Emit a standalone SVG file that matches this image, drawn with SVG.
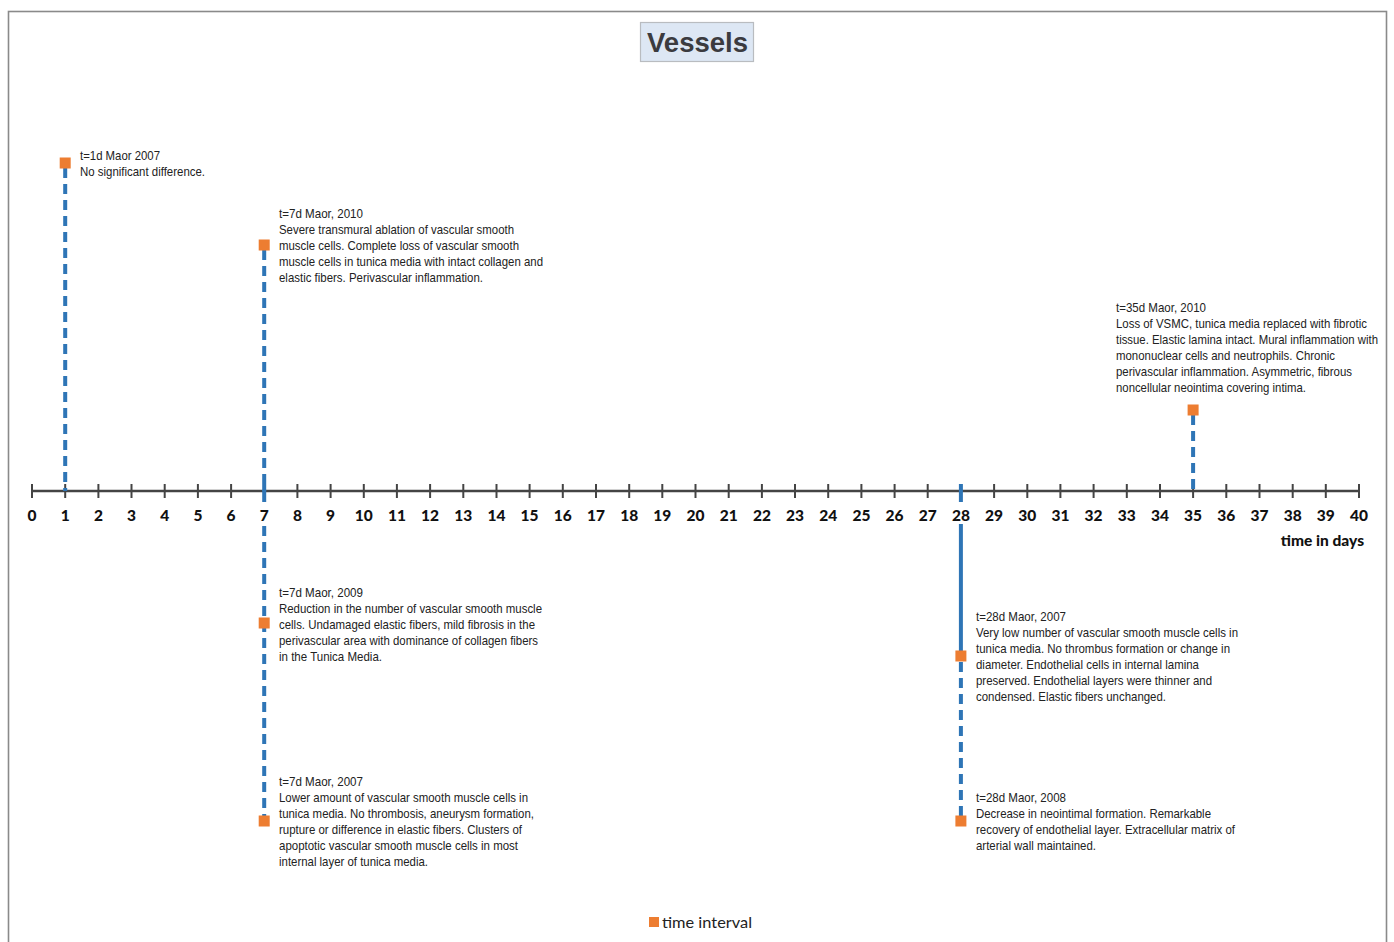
<svg xmlns="http://www.w3.org/2000/svg" width="1394" height="942" viewBox="0 0 1394 942">
<style>
.frame{fill:#fff;stroke:#8a8a8a;stroke-width:1.6}
.title{font-family:"Liberation Sans",Arial,sans-serif;font-weight:bold;font-size:27px;fill:#3b3b3f}
.axis{stroke:#444;stroke-width:2.6;fill:none}
.tick{stroke:#444;stroke-width:2}
.tl{font-family:Lato,"Open Sans",sans-serif;font-weight:900;font-size:15.5px;fill:#111;text-anchor:middle}
.ax{font-family:Lato,"Open Sans",sans-serif;font-weight:900;font-size:15.5px;fill:#111}
.dash{stroke:#2e75b6;stroke-width:4;stroke-dasharray:10 6;fill:none}
.solid{stroke:#2e75b6;stroke-width:4;fill:none}
.mk{fill:#ed7d31}
.t{font-family:"Liberation Sans",Arial,sans-serif;font-size:13.5px;fill:#222}
.leg{font-family:Lato,"Open Sans",sans-serif;font-size:16px;fill:#222}
</style>
<rect class="frame" x="8.5" y="11.5" width="1378" height="945"/>
<g id="title">
<rect x="640.5" y="22.5" width="113" height="39" fill="#dde7f4" stroke="#b9bcc0" stroke-width="1.2"/>
<text class="title" x="647" y="52" textLength="101" lengthAdjust="spacingAndGlyphs">Vessels</text>
</g>
<g id="axis">
<line class="axis" x1="32" y1="491" x2="1359" y2="491"/>
<g class="tick">
<line x1="32" y1="484" x2="32" y2="498"/><line x1="65.2" y1="484" x2="65.2" y2="498"/><line x1="98.4" y1="484" x2="98.4" y2="498"/><line x1="131.5" y1="484" x2="131.5" y2="498"/><line x1="164.7" y1="484" x2="164.7" y2="498"/><line x1="197.9" y1="484" x2="197.9" y2="498"/><line x1="231.1" y1="484" x2="231.1" y2="498"/><line x1="264.2" y1="484" x2="264.2" y2="498"/><line x1="297.4" y1="484" x2="297.4" y2="498"/><line x1="330.6" y1="484" x2="330.6" y2="498"/><line x1="363.8" y1="484" x2="363.8" y2="498"/><line x1="396.9" y1="484" x2="396.9" y2="498"/><line x1="430.1" y1="484" x2="430.1" y2="498"/><line x1="463.3" y1="484" x2="463.3" y2="498"/><line x1="496.5" y1="484" x2="496.5" y2="498"/><line x1="529.6" y1="484" x2="529.6" y2="498"/><line x1="562.8" y1="484" x2="562.8" y2="498"/><line x1="596" y1="484" x2="596" y2="498"/><line x1="629.2" y1="484" x2="629.2" y2="498"/><line x1="662.3" y1="484" x2="662.3" y2="498"/><line x1="695.5" y1="484" x2="695.5" y2="498"/><line x1="728.7" y1="484" x2="728.7" y2="498"/><line x1="761.9" y1="484" x2="761.9" y2="498"/><line x1="795" y1="484" x2="795" y2="498"/><line x1="828.2" y1="484" x2="828.2" y2="498"/><line x1="861.4" y1="484" x2="861.4" y2="498"/><line x1="894.6" y1="484" x2="894.6" y2="498"/><line x1="927.7" y1="484" x2="927.7" y2="498"/><line x1="960.9" y1="484" x2="960.9" y2="498"/><line x1="994.1" y1="484" x2="994.1" y2="498"/><line x1="1027.3" y1="484" x2="1027.3" y2="498"/><line x1="1060.4" y1="484" x2="1060.4" y2="498"/><line x1="1093.6" y1="484" x2="1093.6" y2="498"/><line x1="1126.8" y1="484" x2="1126.8" y2="498"/><line x1="1160" y1="484" x2="1160" y2="498"/><line x1="1193.1" y1="484" x2="1193.1" y2="498"/><line x1="1226.3" y1="484" x2="1226.3" y2="498"/><line x1="1259.5" y1="484" x2="1259.5" y2="498"/><line x1="1292.7" y1="484" x2="1292.7" y2="498"/><line x1="1325.8" y1="484" x2="1325.8" y2="498"/><line x1="1359" y1="484" x2="1359" y2="498"/>
</g>
<g>
<text class="tl" x="32" y="521">0</text><text class="tl" x="65.2" y="521">1</text><text class="tl" x="98.4" y="521">2</text><text class="tl" x="131.5" y="521">3</text><text class="tl" x="164.7" y="521">4</text><text class="tl" x="197.9" y="521">5</text><text class="tl" x="231.1" y="521">6</text><text class="tl" x="264.2" y="521">7</text><text class="tl" x="297.4" y="521">8</text><text class="tl" x="330.6" y="521">9</text><text class="tl" x="363.8" y="521">10</text><text class="tl" x="396.9" y="521">11</text><text class="tl" x="430.1" y="521">12</text><text class="tl" x="463.3" y="521">13</text><text class="tl" x="496.5" y="521">14</text><text class="tl" x="529.6" y="521">15</text><text class="tl" x="562.8" y="521">16</text><text class="tl" x="596" y="521">17</text><text class="tl" x="629.2" y="521">18</text><text class="tl" x="662.3" y="521">19</text><text class="tl" x="695.5" y="521">20</text><text class="tl" x="728.7" y="521">21</text><text class="tl" x="761.9" y="521">22</text><text class="tl" x="795" y="521">23</text><text class="tl" x="828.2" y="521">24</text><text class="tl" x="861.4" y="521">25</text><text class="tl" x="894.6" y="521">26</text><text class="tl" x="927.7" y="521">27</text><text class="tl" x="960.9" y="521">28</text><text class="tl" x="994.1" y="521">29</text><text class="tl" x="1027.3" y="521">30</text><text class="tl" x="1060.4" y="521">31</text><text class="tl" x="1093.6" y="521">32</text><text class="tl" x="1126.8" y="521">33</text><text class="tl" x="1160" y="521">34</text><text class="tl" x="1193.1" y="521">35</text><text class="tl" x="1226.3" y="521">36</text><text class="tl" x="1259.5" y="521">37</text><text class="tl" x="1292.7" y="521">38</text><text class="tl" x="1325.8" y="521">39</text><text class="tl" x="1359" y="521">40</text>
</g>
<text class="ax" x="1364" y="546" text-anchor="end">time in days</text>
</g>
<g id="connectors">
<line class="dash" x1="65.2" y1="168" x2="65.2" y2="491"/>
<line class="dash" x1="264.2" y1="250" x2="264.2" y2="491"/>
<line class="solid" x1="264.2" y1="484" x2="264.2" y2="502"/>
<line class="dash" x1="264.2" y1="526" x2="264.2" y2="818"/>
<line class="solid" x1="960.9" y1="484" x2="960.9" y2="502"/>
<line class="solid" x1="960.9" y1="524" x2="960.9" y2="656"/>
<line class="dash" x1="960.9" y1="662" x2="960.9" y2="818"/>
<line class="dash" x1="1193.1" y1="415" x2="1193.1" y2="491"/>
</g>
<g id="n1">
<rect class="mk" x="59.7" y="157.5" width="11" height="11"/>
<text class="t" x="80" y="160" textLength="80" lengthAdjust="spacingAndGlyphs">t=1d Maor 2007</text>
<text class="t" x="80" y="176" textLength="125" lengthAdjust="spacingAndGlyphs">No significant difference.</text>
</g>
<g id="n7a">
<rect class="mk" x="258.7" y="239.5" width="11" height="11"/>
<text class="t" x="279" y="218" textLength="84" lengthAdjust="spacingAndGlyphs">t=7d Maor, 2010</text>
<text class="t" x="279" y="234" textLength="235" lengthAdjust="spacingAndGlyphs">Severe transmural ablation of vascular smooth</text>
<text class="t" x="279" y="250" textLength="240" lengthAdjust="spacingAndGlyphs">muscle cells. Complete loss of vascular smooth</text>
<text class="t" x="279" y="266" textLength="264" lengthAdjust="spacingAndGlyphs">muscle cells in tunica media with intact collagen and</text>
<text class="t" x="279" y="282" textLength="204" lengthAdjust="spacingAndGlyphs">elastic fibers. Perivascular inflammation.</text>
</g>
<g id="n35">
<rect class="mk" x="1187.6" y="404.5" width="11" height="11"/>
<text class="t" x="1116" y="312" textLength="90" lengthAdjust="spacingAndGlyphs">t=35d Maor, 2010</text>
<text class="t" x="1116" y="328" textLength="251" lengthAdjust="spacingAndGlyphs">Loss of VSMC, tunica media replaced with fibrotic</text>
<text class="t" x="1116" y="344" textLength="262" lengthAdjust="spacingAndGlyphs">tissue. Elastic lamina intact. Mural inflammation with</text>
<text class="t" x="1116" y="360" textLength="219" lengthAdjust="spacingAndGlyphs">mononuclear cells and neutrophils. Chronic</text>
<text class="t" x="1116" y="376" textLength="236" lengthAdjust="spacingAndGlyphs">perivascular inflammation. Asymmetric, fibrous</text>
<text class="t" x="1116" y="392" textLength="190" lengthAdjust="spacingAndGlyphs">noncellular neointima covering intima.</text>
</g>
<g id="n7b">
<rect class="mk" x="258.7" y="617.5" width="11" height="11"/>
<text class="t" x="279" y="597" textLength="84" lengthAdjust="spacingAndGlyphs">t=7d Maor, 2009</text>
<text class="t" x="279" y="613" textLength="263" lengthAdjust="spacingAndGlyphs">Reduction in the number of vascular smooth muscle</text>
<text class="t" x="279" y="629" textLength="256" lengthAdjust="spacingAndGlyphs">cells. Undamaged elastic fibers, mild fibrosis in the</text>
<text class="t" x="279" y="645" textLength="259" lengthAdjust="spacingAndGlyphs">perivascular area with dominance of collagen fibers</text>
<text class="t" x="279" y="661" textLength="103" lengthAdjust="spacingAndGlyphs">in the Tunica Media.</text>
</g>
<g id="n7c">
<rect class="mk" x="258.7" y="815.5" width="11" height="11"/>
<text class="t" x="279" y="786" textLength="84" lengthAdjust="spacingAndGlyphs">t=7d Maor, 2007</text>
<text class="t" x="279" y="802" textLength="249" lengthAdjust="spacingAndGlyphs">Lower amount of vascular smooth muscle cells in</text>
<text class="t" x="279" y="818" textLength="255" lengthAdjust="spacingAndGlyphs">tunica media. No thrombosis, aneurysm formation,</text>
<text class="t" x="279" y="834" textLength="243" lengthAdjust="spacingAndGlyphs">rupture or difference in elastic fibers. Clusters of</text>
<text class="t" x="279" y="850" textLength="239" lengthAdjust="spacingAndGlyphs">apoptotic vascular smooth muscle cells in most</text>
<text class="t" x="279" y="866" textLength="149" lengthAdjust="spacingAndGlyphs">internal layer of tunica media.</text>
</g>
<g id="n28a">
<rect class="mk" x="955.4" y="650.5" width="11" height="11"/>
<text class="t" x="976" y="621" textLength="90" lengthAdjust="spacingAndGlyphs">t=28d Maor, 2007</text>
<text class="t" x="976" y="637" textLength="262" lengthAdjust="spacingAndGlyphs">Very low number of vascular smooth muscle cells in</text>
<text class="t" x="976" y="653" textLength="254" lengthAdjust="spacingAndGlyphs">tunica media. No thrombus formation or change in</text>
<text class="t" x="976" y="669" textLength="223" lengthAdjust="spacingAndGlyphs">diameter. Endothelial cells in internal lamina</text>
<text class="t" x="976" y="685" textLength="236" lengthAdjust="spacingAndGlyphs">preserved. Endothelial layers were thinner and</text>
<text class="t" x="976" y="701" textLength="190" lengthAdjust="spacingAndGlyphs">condensed. Elastic fibers unchanged.</text>
</g>
<g id="n28b">
<rect class="mk" x="955.4" y="815.5" width="11" height="11"/>
<text class="t" x="976" y="802" textLength="90" lengthAdjust="spacingAndGlyphs">t=28d Maor, 2008</text>
<text class="t" x="976" y="818" textLength="235" lengthAdjust="spacingAndGlyphs">Decrease in neointimal formation. Remarkable</text>
<text class="t" x="976" y="834" textLength="259" lengthAdjust="spacingAndGlyphs">recovery of endothelial layer. Extracellular matrix of</text>
<text class="t" x="976" y="850" textLength="120" lengthAdjust="spacingAndGlyphs">arterial wall maintained.</text>
</g>
<g id="legend">
<rect class="mk" x="649" y="917" width="10" height="10"/>
<text class="leg" x="662" y="928" textLength="90" lengthAdjust="spacingAndGlyphs">time interval</text>
</g>
</svg>
